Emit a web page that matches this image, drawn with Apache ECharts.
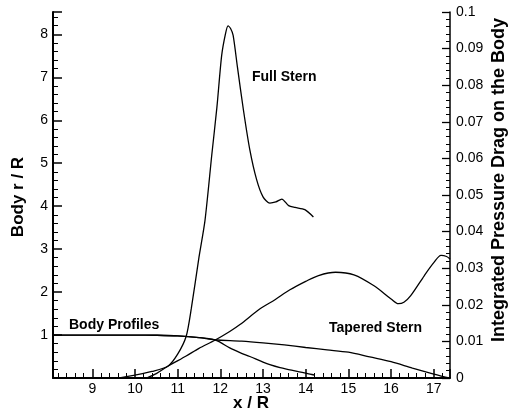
<!DOCTYPE html>
<html><head><meta charset="utf-8">
<script src="https://cdn.jsdelivr.net/npm/echarts@6/dist/echarts.min.js"></script>
<style>html,body{margin:0;padding:0;background:#fff}#c{width:508px;height:412px}</style>
</head><body><div id="c"></div>
<script>
// tick label values
const xTickLabels = [9, 10, 11, 12, 13, 14, 15, 16, 17];
const leftTickLabels = [1, 2, 3, 4, 5, 6, 7, 8];

const fullStemX    = [9.64, 10.0, 10.4, 10.77, 11.0, 11.2, 11.32, 11.5, 11.64, 11.8, 11.92, 12.03, 12.12, 12.18, 12.24, 12.3, 12.4, 12.54, 12.69, 12.85, 13.0, 13.16, 13.3, 13.44, 13.6, 13.75, 13.98, 14.18];
const fullStemDrag = [0, 0.0008, 0.0018, 0.0032, 0.0065, 0.0114, 0.019, 0.033, 0.043, 0.061, 0.074, 0.088, 0.094, 0.0962, 0.0955, 0.0936, 0.085, 0.0733, 0.0624, 0.0542, 0.0495, 0.0478, 0.0481, 0.0489, 0.0471, 0.0466, 0.046, 0.044];

const taperedX    = [10.27, 10.5, 10.77, 11.2, 11.5, 11.87, 12.22, 12.46, 12.93, 13.28, 13.63, 14.0, 14.3, 14.7, 15.13, 15.6, 16.0, 16.17, 16.3, 16.46, 16.78, 17.0, 17.17, 17.3, 17.38];
const taperedDrag = [0, 0.0012, 0.0032, 0.006, 0.0081, 0.0103, 0.0127, 0.0146, 0.0189, 0.0214, 0.0241, 0.0264, 0.028, 0.0289, 0.0282, 0.0252, 0.0216, 0.0203, 0.0207, 0.0225, 0.028, 0.0315, 0.0335, 0.0332, 0.0325];

const bodyTaperedX = [8.08, 9, 10, 10.5, 11, 11.5, 11.87, 12.5, 13, 13.5, 14, 14.5, 15, 15.5, 16, 16.5, 17, 17.2, 17.36];
const bodyTaperedR = [1.0, 1.0, 1.0, 0.995, 0.98, 0.94, 0.89, 0.86, 0.82, 0.77, 0.71, 0.655, 0.6, 0.49, 0.38, 0.23, 0.09, 0.04, 0];

const bodyFullX = [8.08, 9, 10, 10.5, 11, 11.5, 11.87, 12.0, 12.22, 12.46, 12.69, 13.0, 13.16, 13.4, 13.63, 13.85, 14.1, 14.2];
const bodyFullR = [1.0, 1.0, 1.0, 0.995, 0.98, 0.94, 0.89, 0.83, 0.70, 0.59, 0.50, 0.37, 0.31, 0.24, 0.19, 0.14, 0.09, 0.07];

const zip = (xs, ys) => xs.map((x, i) => [x, ys[i]]);
const FONT = 'Liberation Sans';
const lineStyle = { color: '#000', width: 1.3 };
const near = (v, list) => list.some(t => Math.abs(t - v) < 1e-6);

const chart = echarts.init(document.getElementById('c'), null, { renderer: 'canvas' });
chart.setOption({
  animation: false,
  backgroundColor: '#fff',
  grid: { left: 53, right: 58, top: 12, bottom: 34 },
  xAxis: [
    {
      type: 'value', min: 8.08, max: 17.38, splitNumber: 9, position: 'bottom',
      splitLine: { show: false },
      axisLine: { show: true, lineStyle: { color: '#000', width: 2 } },
      axisTick: { show: true, inside: true, length: 9, lineStyle: { color: '#000', width: 1.5 } },
      minorTick: { show: true, splitNumber: 5, length: 5, lineStyle: { color: '#000', width: 1 } },
      axisLabel: { color: '#000', fontFamily: FONT, fontSize: 14, margin: 4, showMinLabel: false, showMaxLabel: false,
        formatter: v => near(v, xTickLabels) ? String(Math.round(v)) : '' }
    }
  ],
  yAxis: [
    {
      type: 'value', min: 0, max: 8.52, splitNumber: 8, position: 'left',
      splitLine: { show: false },
      axisLine: { show: true, lineStyle: { color: '#000', width: 2 } },
      axisTick: { show: true, inside: true, length: 9, lineStyle: { color: '#000', width: 1.5 } },
      minorTick: { show: true, splitNumber: 5, length: 5, lineStyle: { color: '#000', width: 1 } },
      axisLabel: { color: '#000', fontFamily: FONT, fontSize: 14, margin: 5, showMaxLabel: false,
        formatter: v => near(v, leftTickLabels) ? String(Math.round(v)) : '' }
    },
    {
      type: 'value', min: 0, max: 0.1, interval: 0.01, position: 'right',
      splitLine: { show: false },
      axisLine: { show: true, lineStyle: { color: '#000', width: 1.5 } },
      axisTick: { show: true, inside: true, length: 8, lineStyle: { color: '#000', width: 1.3 } },
      minorTick: { show: true, splitNumber: 5, length: 4, lineStyle: { color: '#000', width: 1 } },
      axisLabel: { color: '#000', fontFamily: FONT, fontSize: 14, margin: 6,
        formatter: v => (Math.round(v * 100) / 100).toString() }
    }
  ],
  series: [
    { name: 'Full Stern drag', type: 'line', yAxisIndex: 1, data: zip(fullStemX, fullStemDrag), showSymbol: false, smooth: 0.25, lineStyle },
    { name: 'Tapered Stern drag', type: 'line', yAxisIndex: 1, data: zip(taperedX, taperedDrag), showSymbol: false, smooth: 0.3, lineStyle },
    { name: 'Tapered Stern body', type: 'line', yAxisIndex: 0, data: zip(bodyTaperedX, bodyTaperedR), showSymbol: false, smooth: 0.3, lineStyle },
    { name: 'Full Stern body', type: 'line', yAxisIndex: 0, data: zip(bodyFullX, bodyFullR), showSymbol: false, smooth: 0.3, lineStyle }
  ],
  graphic: [
    { type: 'text', x: 251, y: 403, style: { text: 'x / R', font: 'bold 17px "Liberation Sans"', fill: '#000', align: 'center', verticalAlign: 'middle' } },
    { type: 'text', x: 18, y: 197, rotation: Math.PI / 2, style: { text: 'Body r / R', font: 'bold 17px "Liberation Sans"', fill: '#000', align: 'center', verticalAlign: 'middle' } },
    { type: 'text', x: 499, y: 180, rotation: Math.PI / 2, style: { text: 'Integrated Pressure Drag on the Body', font: 'bold 18px "Liberation Sans"', fill: '#000', align: 'center', verticalAlign: 'middle' } },
    { type: 'text', x: 252, y: 77, style: { text: 'Full Stern', font: 'bold 14px "Liberation Sans"', fill: '#000', align: 'left', verticalAlign: 'middle' } },
    { type: 'text', x: 69, y: 325, style: { text: 'Body Profiles', font: 'bold 14px "Liberation Sans"', fill: '#000', align: 'left', verticalAlign: 'middle' } },
    { type: 'text', x: 329, y: 328, style: { text: 'Tapered Stern', font: 'bold 14px "Liberation Sans"', fill: '#000', align: 'left', verticalAlign: 'middle' } }
  ]
});
</script>
</body></html>
